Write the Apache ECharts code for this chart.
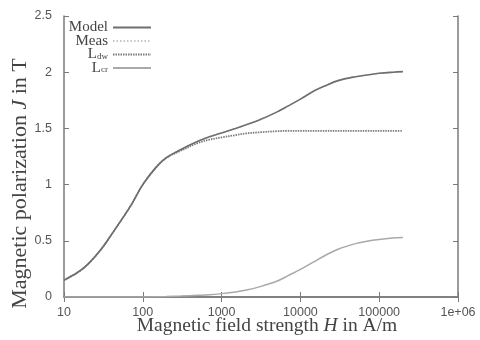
<!DOCTYPE html>
<html><head><meta charset="utf-8">
<script src="https://cdn.jsdelivr.net/npm/echarts@6/dist/echarts.min.js"></script>
<style>html,body{margin:0;padding:0;background:#fff}#c{width:480px;height:340px}</style>
</head><body><div id="c"></div>
<script>
var H = [10, 15, 20, 30, 40, 50, 70, 100, 150, 200, 300, 500, 700, 1000, 1500, 2000, 3000, 5000, 7000, 10000, 15000, 20000, 30000, 50000, 70000, 100000, 150000, 200000];
var model = [0.15, 0.22, 0.29, 0.43, 0.555, 0.655, 0.81, 1.00, 1.16, 1.24, 1.31, 1.385, 1.425, 1.46, 1.50, 1.53, 1.575, 1.645, 1.70, 1.76, 1.835, 1.875, 1.925, 1.96, 1.975, 1.99, 2.00, 2.005];
var meas  = [0.15, 0.22, 0.29, 0.43, 0.555, 0.655, 0.81, 1.00, 1.16, 1.24, 1.31, 1.385, 1.425, 1.46, 1.50, 1.53, 1.575, 1.645, 1.70, 1.76, 1.835, 1.875, 1.925, 1.96, 1.975, 1.99, 2.00, 2.005];
var ldw   = [0.15, 0.22, 0.29, 0.43, 0.555, 0.655, 0.81, 1.00, 1.16, 1.24, 1.30, 1.37, 1.40, 1.42, 1.44, 1.455, 1.465, 1.475, 1.478, 1.478, 1.478, 1.478, 1.478, 1.478, 1.478, 1.478, 1.478, 1.478];
var lcr   = [0, 0, 0, 0, 0, 0, 0, 0, 0.002, 0.004, 0.008, 0.015, 0.02, 0.03, 0.045, 0.06, 0.09, 0.14, 0.19, 0.245, 0.315, 0.365, 0.425, 0.475, 0.497, 0.512, 0.524, 0.53];
var yTicks = [0, 0.5, 1, 1.5, 2, 2.5];

function pairs(v){ return H.map(function(h,i){ return [h, v[i]]; }); }
var axisColor = '#7a7a7a';
var labelStyle = {color:'#555', fontFamily:'Liberation Sans', fontSize:12.5};
var chart = echarts.init(document.getElementById('c'), null, {renderer:'canvas'});
chart.setOption({
  animation:false,
  backgroundColor:'#ffffff',
  grid:{left:64, right:22, top:16, bottom:43, containLabel:false, outerBoundsMode:'none'},
  legend:{
    orient:'vertical', left:59, top:15, align:'right', itemGap:-1.5,
    itemWidth:38, itemHeight:13,
    itemStyle:{opacity:0, borderWidth:0},
    data:['Model','Meas','Ldw','Lcr'],
    formatter:function(n){ if(n==='Ldw') return 'L{s|dw}'; if(n==='Lcr') return 'L{s|cr}'; return n; },
    textStyle:{fontFamily:'Liberation Serif', fontSize:15, color:'#444', width:44, align:'right', lineHeight:13,
      rich:{s:{fontFamily:'Liberation Serif', fontSize:9, color:'#444', verticalAlign:'bottom', lineHeight:13}}}
  },
  xAxis:[{
    type:'log', logBase:10, min:10, max:1000000,
    axisLine:{lineStyle:{color:axisColor, width:1.5}},
    axisTick:{inside:true, length:5, lineStyle:{color:axisColor}},
    splitLine:{show:false},
    axisLabel:Object.assign({margin:9, formatter:function(v){ return v>=1000000 ? '1e+06' : String(Math.round(v)); }}, labelStyle),
    name:'Magnetic field strength {i|H} in A/m', nameLocation:'middle', nameGap:19, nameMoveOverlap:false,
    nameTextStyle:{fontFamily:'Liberation Serif', fontSize:19.5, color:'#444', padding:[0,0,0,12],
      rich:{i:{fontFamily:'Liberation Serif', fontStyle:'italic', fontSize:19.5, color:'#444'}}}
  },{
    type:'log', logBase:10, min:10, max:1000000, position:'top',
    axisLine:{lineStyle:{color:axisColor, width:1.5}},
    axisTick:{inside:true, length:5, lineStyle:{color:axisColor}},
    axisLabel:{show:false}, splitLine:{show:false}
  }],
  yAxis:[{
    type:'value', min:0, max:2.5, interval:0.5,
    axisLine:{show:true, lineStyle:{color:axisColor, width:1.5}},
    axisTick:{show:true, inside:true, length:5, lineStyle:{color:axisColor}},
    splitLine:{show:false},
    axisLabel:Object.assign({margin:12, formatter:function(v){ return String(v); }}, labelStyle),
    name:'Magnetic polarization {i|J} in T', nameLocation:'middle', nameGap:33, nameMoveOverlap:false,
    nameTextStyle:{fontFamily:'Liberation Serif', fontSize:22, color:'#444', padding:[0,54,0,0],
      rich:{i:{fontFamily:'Liberation Serif', fontStyle:'italic', fontSize:22, color:'#444'}}}
  },{
    type:'value', min:0, max:2.5, interval:0.5, position:'right',
    axisLine:{show:true, lineStyle:{color:axisColor, width:1.5}},
    axisTick:{show:true, inside:true, length:5, lineStyle:{color:axisColor}},
    axisLabel:{show:false}, splitLine:{show:false}
  }],
  series:[
    {name:'Meas', type:'line', symbol:'none', smooth:0.35, z:1, data:pairs(meas), lineStyle:{color:'#c4c4c4', width:1.5, type:[1.5,2]}, itemStyle:{color:'#c4c4c4'}},
    {name:'Lcr', type:'line', symbol:'none', smooth:0.35, z:2, data:pairs(lcr), lineStyle:{color:'#a9a9a9', width:1.5}, itemStyle:{color:'#a9a9a9'}},
    {name:'Ldw', type:'line', symbol:'none', smooth:0.35, z:3, data:pairs(ldw), lineStyle:{color:'#7a7a7a', width:1.8, type:[1.5,1]}, itemStyle:{color:'#7a7a7a'}},
    {name:'Model', type:'line', symbol:'none', smooth:0.35, z:4, data:pairs(model), lineStyle:{color:'#6e6e6e', width:1.6}, itemStyle:{color:'#6e6e6e'}}
  ]
});
</script></body></html>
